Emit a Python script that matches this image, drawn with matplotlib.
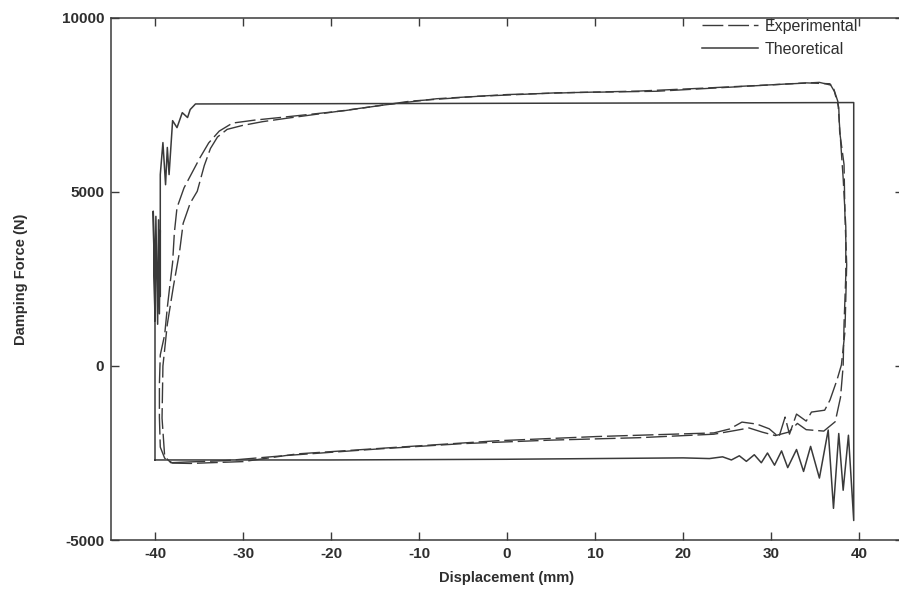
import matplotlib
matplotlib.use("Agg")
import matplotlib.pyplot as plt

plt.rcParams['font.family'] = ['Liberation Sans', 'DejaVu Sans']
plt.rcParams['axes.unicode_minus'] = False

# ---------------- data ----------------
x_ticks = [-40, -30, -20, -10, 0, 10, 20, 30, 40]
y_ticks = [-5000, 0, 5000, 10000]

# Theoretical loop
theo_x = [-40.0, -40.0, -40.2, -40.0, -39.9, -39.7, -39.6, -39.5, -39.4, -39.4,
          -39.4, -39.1, -38.8, -38.6, -38.4, -38.0, -37.5, -36.9, -36.3, -36.0,
          -35.4, 39.4, 39.4, 38.8, 38.2, 37.7, 37.1, 36.5, 35.5, 34.5,
          33.7, 32.9, 31.9, 31.2, 30.4, 29.6, 28.9, 28.1, 27.2, 26.4,
          25.5, 24.5, 23.0, 20.0, 0.0, -20.0, -40.0]
theo_f = [-2700, 1200, 4450, 1300, 4300, 1200, 4200, 1500, 3900, 2000,
          5500, 6420, 5210, 6280, 5500, 7050, 6850, 7280, 7140, 7370,
          7530, 7570, -4440, -1990, -3570, -1940, -4090, -1840, -3220, -2310,
          -3030, -2400, -2920, -2440, -2850, -2500, -2780, -2550, -2740, -2580,
          -2700, -2610, -2660, -2640, -2680, -2700, -2700]

# Experimental, cycle 1
exp1_x = [-36.0, -38.0, -38.9, -39.4, -39.5, -39.5, -39.4, -38.9, -38.6, -38.3,
          -38.0, -37.8, -37.5, -36.7, -35.8, -34.9, -33.9, -32.7, -31.2, -28.7,
          -25.8, -18.5, -11.0, -3.4, 5.7, 17.0, 26.4, 34.0, 36.7, 37.2,
          37.7, 37.8, 38.3, 38.4, 38.6, 38.4, 38.0, 37.5, 36.7, 36.1,
          34.6, 34.0, 32.9, 32.1, 31.6, 30.9, 29.8, 28.4, 26.7, 25.3,
          23.5, 10.2, -1.1, -12.5, -23.8, -30.0, -36.0]
exp1_f = [-2800, -2790, -2650, -2330, -1470, -520, 320, 900, 1680, 2340,
          2970, 3830, 4550, 5120, 5550, 5980, 6410, 6750, 6980, 7065,
          7140, 7336, 7610, 7748, 7851, 7895, 8027, 8136, 8110, 7890,
          7430, 6740, 5790, 4350, 2910, 980, 30, -400, -980, -1270,
          -1324, -1583, -1382, -1958, -1468, -2044, -1805, -1670, -1612, -1810,
          -1923, -2027, -2148, -2335, -2525, -2747, -2800]

# Experimental, cycle 2
exp2_x = [-36.5, -38.2, -38.9, -39.2, -39.1, -38.6, -37.9, -37.2, -36.8, -36.0,
          -35.2, -34.4, -33.7, -32.9, -31.8, -30.1, -27.8, -25.0, -20.0, -14.0,
          -8.0, 0.0, 8.0, 15.0, 22.0, 30.0, 35.5, 37.0, 37.6, 37.9,
          38.2, 38.5, 38.5, 38.3, 38.2, 37.9, 37.3, 36.0, 34.0, 33.0,
          32.0, 30.5, 29.0, 27.5, 26.0, 23.5, 15.0, 5.0, -5.0, -15.0,
          -25.0, -32.0, -36.5]
exp2_f = [-2760, -2780, -2600, -1500, 0, 1200, 2300, 3300, 4100, 4680,
          5020, 5760, 6250, 6580, 6800, 6910, 7020, 7120, 7290, 7500,
          7680, 7800, 7860, 7900, 7980, 8080, 8150, 8060, 7600, 6500,
          5400, 4000, 2600, 1200, 0, -900, -1600, -1870, -1830, -1650,
          -1900, -2000, -1900, -1780, -1850, -1960, -2060, -2130, -2230, -2390,
          -2570, -2720, -2760]

# ---------------- figure ----------------
ink = '#3a3a3a'
fig = plt.figure(figsize=(8.99, 5.94), dpi=100)
ax = fig.add_axes([111 / 899, 1 - 540 / 594, (903 - 111) / 899, (540 - 18) / 594])

dash = (15, 3.5)
ax.plot(exp1_x, exp1_f, color=ink, lw=1.0, dashes=dash, label='Experimental')
ax.plot(exp2_x, exp2_f, color=ink, lw=1.0, dashes=dash)
ax.plot(theo_x, theo_f, color=ink, lw=1.1, label='Theoretical')

ax.set_xlim(-45, 45)
ax.set_ylim(-5000, 10000)
ax.set_xticks(x_ticks)
ax.set_yticks(y_ticks)
ax.set_xticklabels([str(v) for v in x_ticks])
ax.set_yticklabels([str(v) for v in y_ticks])

ax.tick_params(direction='in', length=6, width=1.0, color=ink,
               top=True, right=True, labelsize=11, labelcolor='#2e2e2e', pad=5)
for lab in ax.get_xticklabels() + ax.get_yticklabels():
    lab.set_fontweight('bold')
for sp in ax.spines.values():
    sp.set_color(ink)
    sp.set_linewidth(1.1)

ax.set_xlabel('Displacement (mm)', fontsize=10.5, fontweight='bold', color='#2e2e2e', labelpad=7)
ax.set_ylabel('Damping Force (N)', fontsize=10.5, fontweight='bold', color='#2e2e2e', labelpad=24)

leg = ax.legend(loc='upper right', bbox_to_anchor=(858 / 899, 1 - 19 / 594),
                bbox_transform=fig.transFigure, frameon=False, fontsize=11.5,
                handlelength=3.5, handletextpad=0.4, labelspacing=0.5,
                borderaxespad=0, borderpad=0)
for t in leg.get_texts():
    t.set_color('#2e2e2e')

fig.savefig('out.png', dpi=100, facecolor='white')
